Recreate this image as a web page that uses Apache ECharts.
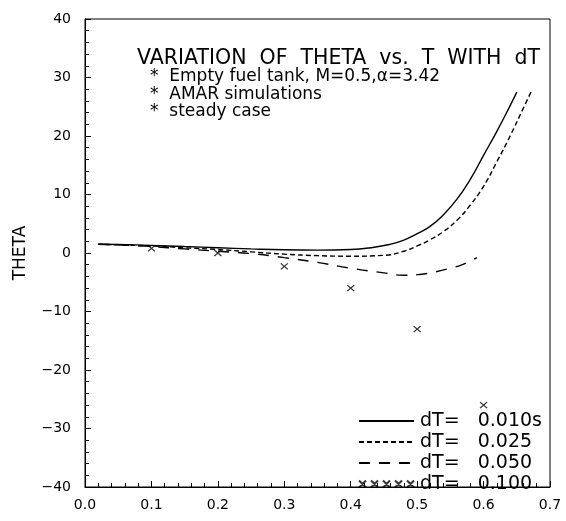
<!DOCTYPE html>
<html><head><meta charset="utf-8">
<script src="https://cdn.jsdelivr.net/npm/echarts@6/dist/echarts.min.js"></script>
<style>html,body{margin:0;padding:0;background:#fff}#c{width:566px;height:521px}</style>
</head><body><div id="c"></div>
<script>
// Data
const t010 = [0.02,0.05,0.10,0.15,0.20,0.25,0.30,0.35,0.40,0.43,0.46,0.48,0.50,0.52,0.54,0.56,0.58,0.60,0.62,0.64,0.65];
const th010 = [1.5,1.45,1.3,1.1,0.9,0.7,0.55,0.5,0.6,0.9,1.5,2.2,3.3,4.6,6.6,9.2,12.6,16.7,20.8,25.2,27.5];

const t025 = [0.02,0.05,0.10,0.15,0.20,0.25,0.30,0.35,0.40,0.45,0.48,0.50,0.52,0.54,0.56,0.58,0.60,0.62,0.64,0.66,0.673];
const th025 = [1.5,1.4,1.2,0.9,0.6,0.2,-0.2,-0.45,-0.55,-0.4,0.3,1.2,2.3,3.7,5.6,8.2,11.4,15.6,20.0,24.8,27.9];

const t050 = [0.02,0.05,0.10,0.15,0.20,0.25,0.30,0.35,0.40,0.45,0.48,0.50,0.52,0.55,0.57,0.59];
const th050 = [1.5,1.4,1.1,0.7,0.3,-0.1,-0.8,-1.6,-2.6,-3.4,-3.8,-3.7,-3.4,-2.6,-1.9,-0.8];

const t100 = [0.1,0.2,0.3,0.4,0.5,0.6];
const th100 = [0.8,0.0,-2.3,-6.0,-13.0,-26.0];

const seriesNames = ['dT=   0.010s','dT=   0.025','dT=   0.050','dT=   0.100'];
const xTicks = {min:0, max:0.7, step:0.1};
const yTicks = {min:-40, max:40, step:10};

const FONT = 'DejaVu Sans';
const zip = (a,b) => a.map((v,i)=>[v,b[i]]);
const crossIcon = 'path://M0,0L7,7M7,0L0,7';
const fiveCross = 'path://M0,0L7,7M7,0L0,7M12,0L19,7M19,0L12,7M24,0L31,7M31,0L24,7M36,0L43,7M43,0L36,7M48,0L55,7M55,0L48,7';

const chart = echarts.init(document.getElementById('c'), null, {renderer:'canvas'});
chart.setOption({
  backgroundColor:'#fff',
  animation:false,
  textStyle:{fontFamily:FONT, color:'#000'},
  title:[
    {text:'VARIATION  OF  THETA  vs.  T  WITH  dT', left:132, top:43,
     textStyle:{fontFamily:FONT, fontSize:20.5, fontWeight:'normal', color:'#000'}},
    {text:'*  Empty fuel tank, M=0.5,α=3.42\n*  AMAR simulations\n*  steady case', left:145, top:63,
     textStyle:{fontFamily:FONT, fontSize:17, fontWeight:'normal', color:'#000', lineHeight:17.5}}
  ],
  grid:{left:85, right:16, top:19, bottom:34, show:true, borderColor:'#000', borderWidth:1, backgroundColor:'transparent'},
  legend:{
    orient:'vertical', left:353, top:406, itemWidth:55, itemHeight:7, itemGap:1,
    textStyle:{fontFamily:FONT, fontSize:19, color:'#000', lineHeight:20, padding:[0,0,0,1]},
    data:[
      {name:seriesNames[0], itemStyle:{opacity:0}},
      {name:seriesNames[1], itemStyle:{opacity:0}},
      {name:seriesNames[2], itemStyle:{opacity:0}},
      {name:seriesNames[3], icon:fiveCross}
    ]
  },
  xAxis:{
    type:'value', min:xTicks.min, max:xTicks.max, interval:xTicks.step,
    axisLine:{show:true, onZero:false, lineStyle:{color:'#000', width:1}},
    axisTick:{show:true, inside:true, length:6, lineStyle:{color:'#000'}},
    minorTick:{show:true, splitNumber:5, length:4, lineStyle:{color:'#000'}},
    splitLine:{show:false},
    axisLabel:{color:'#000', fontFamily:FONT, fontSize:14, margin:11, formatter:v=>v.toFixed(1)}
  },
  yAxis:{
    type:'value', min:yTicks.min, max:yTicks.max, interval:yTicks.step,
    name:'THETA', nameLocation:'middle', nameRotate:90, nameGap:56,
    nameTextStyle:{fontFamily:FONT, fontSize:17, color:'#000'},
    axisLine:{show:true, onZero:false, lineStyle:{color:'#000', width:1}},
    axisTick:{show:true, inside:true, length:6, lineStyle:{color:'#000'}},
    minorTick:{show:true, splitNumber:5, length:4, lineStyle:{color:'#000'}},
    splitLine:{show:false},
    axisLabel:{color:'#000', fontFamily:FONT, fontSize:14, margin:14, formatter:v=>String(v).replace('-','\u2212')}
  },
  series:[
    {name:seriesNames[0], type:'line', data:zip(t010,th010), smooth:true, showSymbol:false, symbol:'none',
     lineStyle:{color:'#000', width:1.4, type:'solid'}, itemStyle:{color:'#000'}},
    {name:seriesNames[1], type:'line', data:zip(t025,th025), smooth:true, showSymbol:false, symbol:'none',
     lineStyle:{color:'#000', width:1.4, type:[5,3]}, itemStyle:{color:'#000'}},
    {name:seriesNames[2], type:'line', data:zip(t050,th050), smooth:true, showSymbol:false, symbol:'none',
     lineStyle:{color:'#000', width:1.4, type:[11,9]}, itemStyle:{color:'#000'}},
    {name:seriesNames[3], type:'scatter', data:zip(t100,th100), symbol:crossIcon, symbolSize:[7,6],
     itemStyle:{color:'rgba(0,0,0,0)', borderColor:'#000', borderWidth:1.2}}
  ]
});
</script></body></html>
